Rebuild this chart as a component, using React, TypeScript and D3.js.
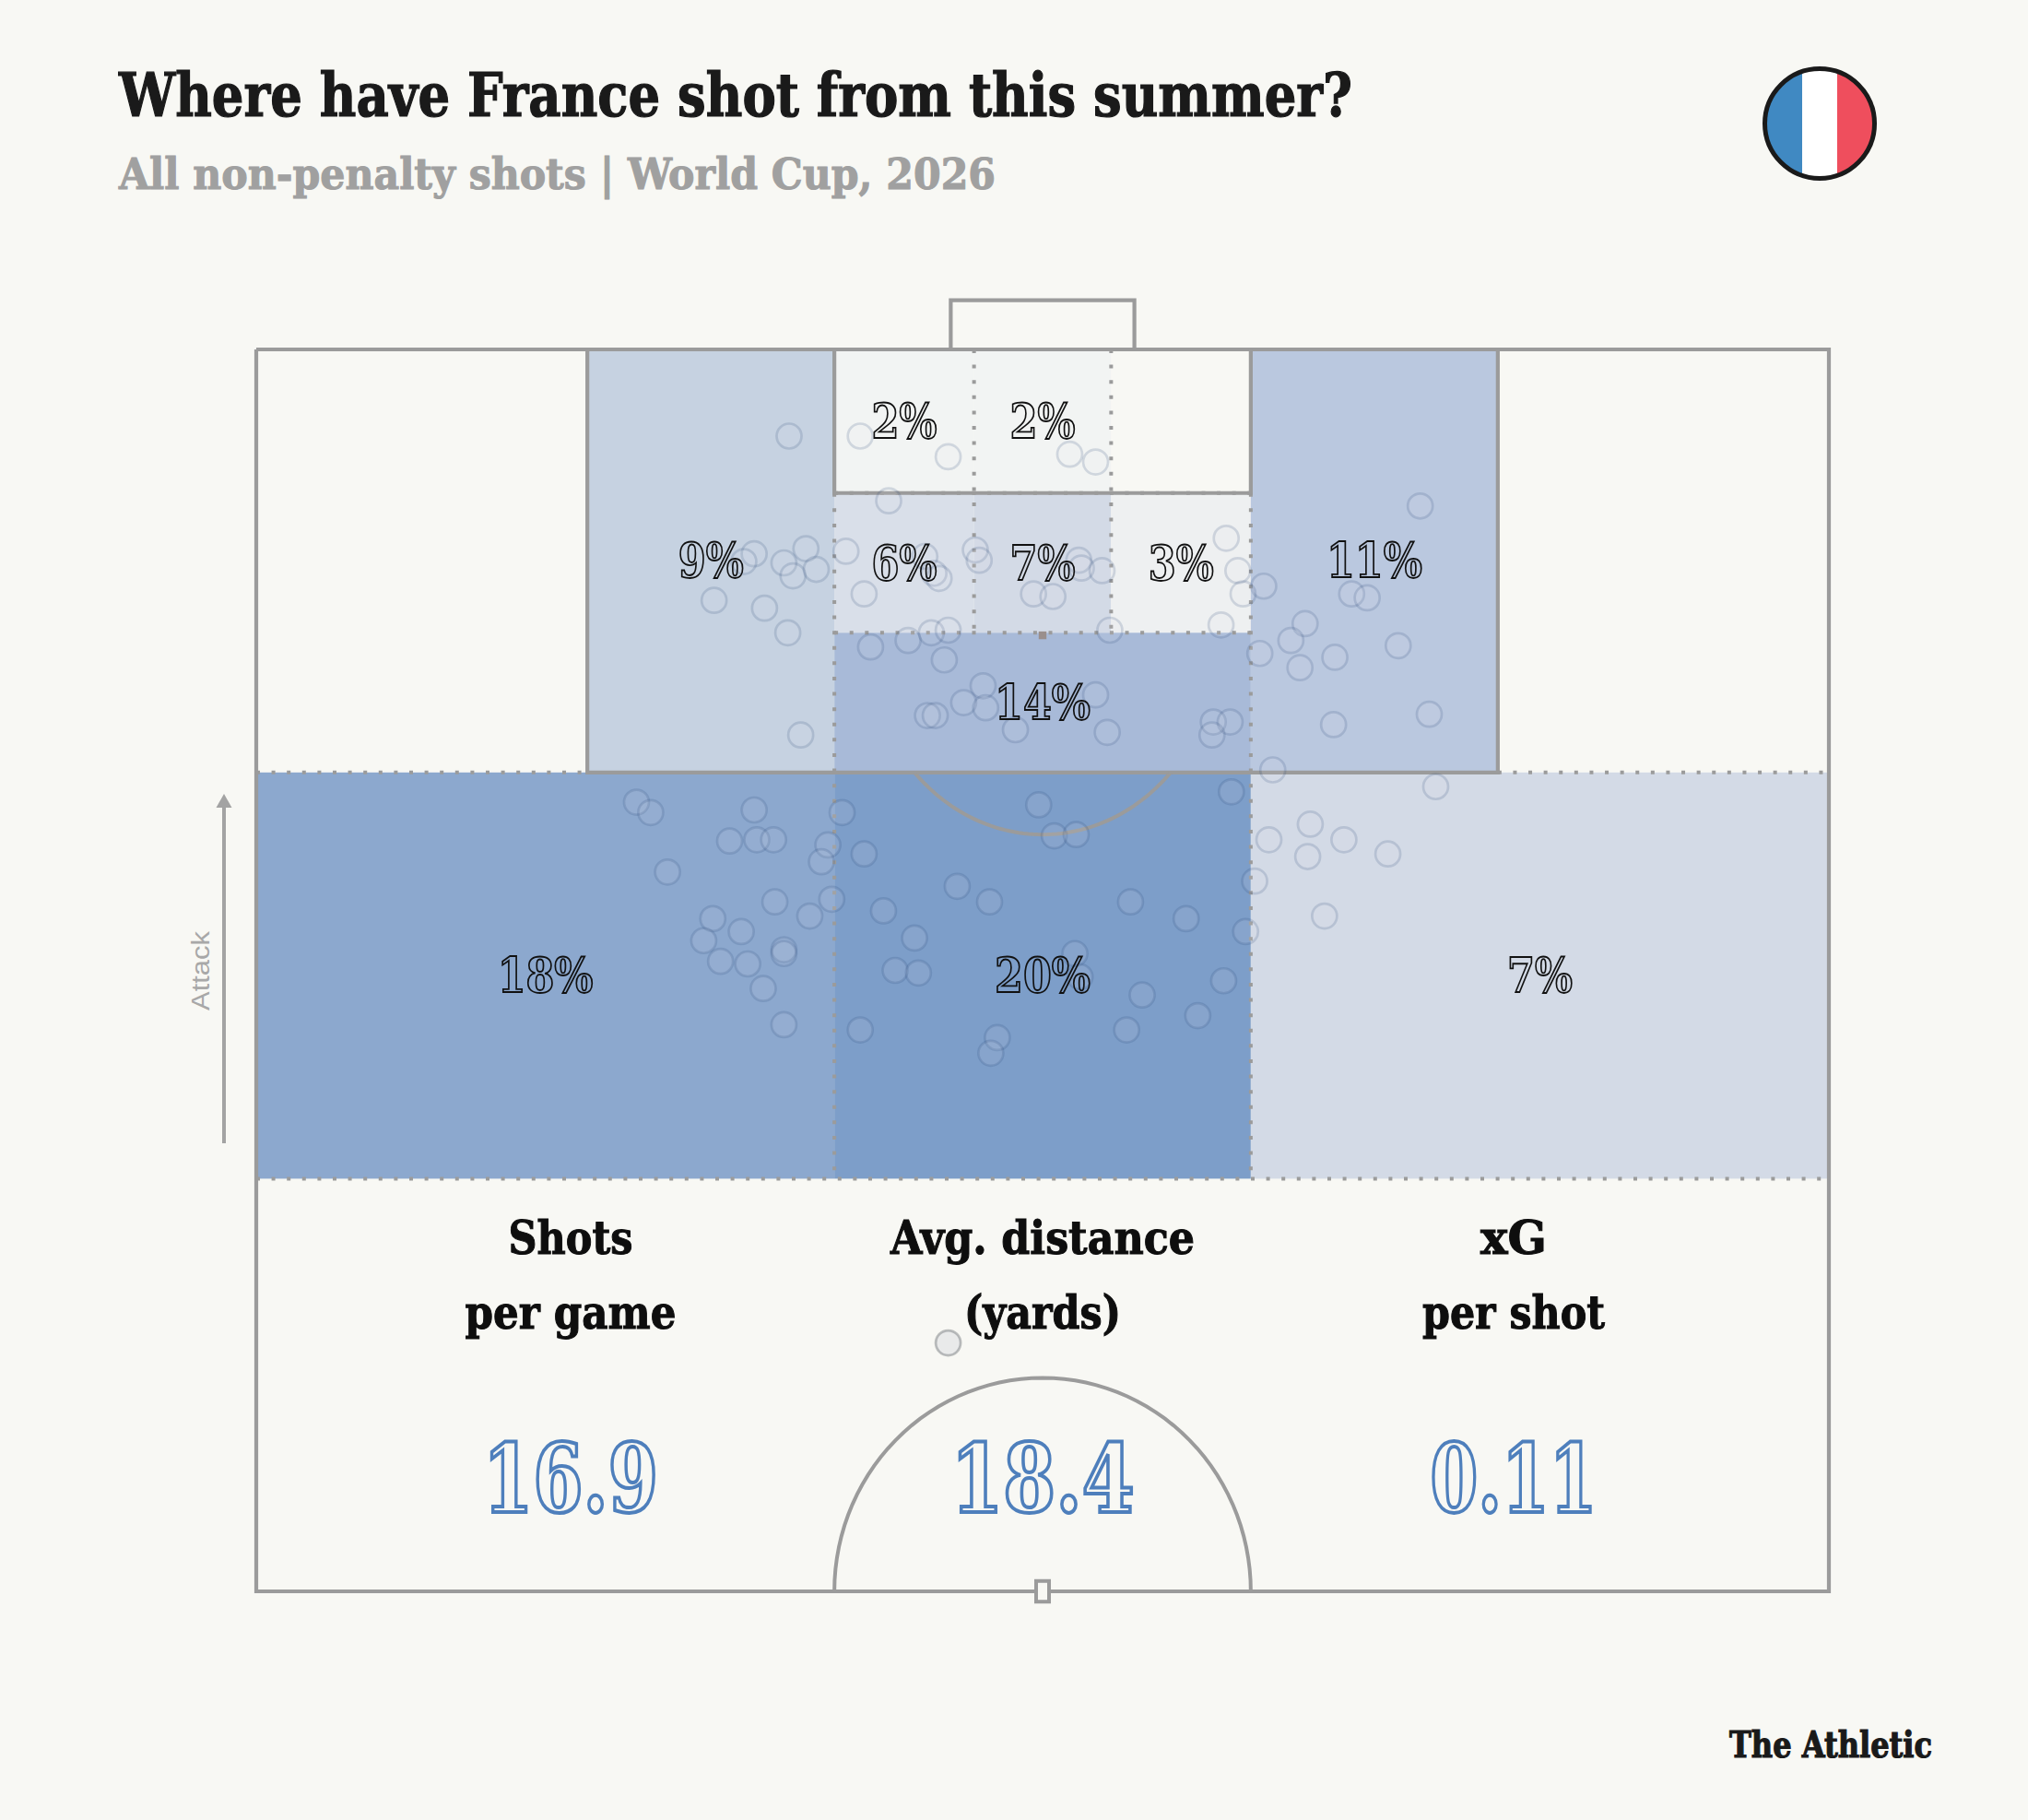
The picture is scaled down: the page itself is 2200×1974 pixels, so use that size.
import * as d3 from "d3";
import * as React from "react";

// pitch units: x = across the pitch from the middle of the goal, y = depth from the goal line
const zoneNames = ["sixLeft", "sixMid", "sixRight", "midLeft", "midMid", "midRight", "boxBottom", "boxLeft", "boxRight", "outLeft", "outMid", "outRight"];
const zoneShare = [2, 2, 0, 6, 7, 3, 14, 9, 11, 18, 20, 7];
const zoneX0 = [-161, -53, 53, -161, -53, 53, -161, -352, 161, -608, -161, 161];
const zoneX1 = [-53, 53, 161, -53, 53, 161, 161, -161, 352, -161, 161, 608];
const zoneY0 = [0, 0, 0, 111, 111, 111, 219, 0, 0, 327, 327, 327];
const zoneY1 = [111, 111, 111, 219, 219, 219, 327, 327, 327, 641, 641, 641];

const shotX = [
  -196, -141, -73, 21, 41, -119, 142, -223, -231, -200, -183, -193, -175, -254, -215, -197,
  -187, -152, -91, -84, -80, -138, -52, -49, 28, 30, -7, 8, 46, 151, 171, 155,
  138, 52, -133, -104, -86, -73, -76, -46, -61, -44, 41, -21, 50, -89, -83, 132,
  145, 131, 168, 292, 239, 251, 203, 192, 199, 226, 275, 299, 225, 178, 304, 146,
  -314, -303, -223, -155, -242, -221, -208, -166, -171, -138, -290, -207, -163, -180, -255, -233,
  -262, -249, -228, -200, -200, -216, -200, -141, -3, 9, 26, -66, -41, -123, 68, 111,
  -99, -114, -96, 164, 157, 25, 29, 77, 140, 120, 65, -35, -40, 207, 175, 233,
  205, 267, 218, -73,
];
const shotY = [
  67, 67, 83, 81, 87, 117, 146, 158, 164, 165, 154, 175, 170, 194, 200, 219,
  298, 156, 160, 173, 177, 189, 155, 163, 163, 169, 189, 191, 171, 171, 183, 189,
  213, 217, 230, 225, 219, 217, 240, 260, 273, 277, 267, 294, 296, 283, 283, 288,
  288, 298, 235, 121, 189, 192, 212, 225, 246, 238, 229, 282, 290, 325, 338, 342,
  350, 358, 356, 358, 380, 379, 379, 383, 396, 390, 404, 427, 425, 438, 440, 450,
  457, 473, 475, 464, 467, 494, 522, 526, 352, 376, 375, 415, 427, 434, 427, 440,
  455, 480, 482, 411, 450, 467, 485, 499, 488, 515, 526, 532, 544, 367, 379, 379,
  392, 390, 438, 768,
];

const statNames = [["Shots", "per game"], ["Avg. distance", "(yards)"], ["xG", "per shot"]];
const statValues = ["16.9", "18.4", "0.11"];
const flagColors = ["#4089C2", "#FFFFFF", "#EF4E5D"];

const bg = "#F8F8F4";
const lineColor = "#9B9B9B";
const slab = "'DejaVu Serif Condensed', 'DejaVu Serif', serif";

export default function App() {
  const width = 2200;
  const height = 1974;
  const pitchLeft = 278;
  const pitchRight = 1984;
  const pitchTop = 379;
  const pitchBottom = 1726;

  const svgRef = React.useRef<SVGSVGElement>(null);

  React.useEffect(() => {
    const svgElement = svgRef.current;
    if (svgElement == null) return;
    const svg = d3.select(svgElement);
    svg.selectAll("*").remove();

    const x = d3.scaleLinear([-608, 608], [pitchLeft, pitchRight]);
    const y = d3.scaleLinear([0, 960], [pitchTop, pitchBottom]);
    const color = d3.scaleLinear<string>(
      [0, 2, 3, 6, 7, 9, 11, 14, 18, 20],
      [bg, "#F2F4F3", "#EEF0F1", "#D9DFE9", "#D3DAE6", "#C6D2E1", "#BAC8DF", "#A8BAD8", "#8CA8CE", "#7D9EC9"]
    );

    svg.append("rect").attr("width", width).attr("height", height).attr("fill", bg);

    const text = (
      str: string,
      px: number,
      py: number,
      size: number,
      len: number,
      fill: string,
      family = slab,
      weight = "bold",
      heavy = 0
    ) =>
      svg
        .append("text")
        .attr("x", px)
        .attr("y", py)
        .attr("font-family", family)
        .attr("font-weight", weight)
        .attr("font-size", size)
        .attr("fill", fill)
        .attr("stroke", heavy > 0 ? fill : "none")
        .attr("stroke-width", heavy)
        .attr("textLength", len)
        .attr("lengthAdjust", "spacingAndGlyphs")
        .text(str);

    // heading
    text("Where have France shot from this summer?", 129, 126, 65, 1338, "#1A1A1A", slab, "bold", 1.2);
    text("All non-penalty shots | World Cup, 2026", 129, 205, 47, 951, "#A0A0A0", slab, "bold", 1);

    // flag
    const flagR = 60;
    const flagX = 1974;
    const flagY = 134;
    const flagBand = d3.scaleBand<number>([0, 1, 2], [flagX - 57, flagX + 57]);
    const clip = svg.append("clipPath").attr("id", "flag-clip");
    clip.append("circle").attr("cx", flagX).attr("cy", flagY).attr("r", flagR);
    svg
      .append("g")
      .attr("clip-path", "url(#flag-clip)")
      .selectAll("rect")
      .data(flagColors)
      .join("rect")
      .attr("x", (_, i) => (i === 0 ? flagX - flagR : flagBand(i) ?? 0))
      .attr("y", flagY - flagR)
      .attr("width", flagBand.bandwidth() + 3)
      .attr("height", flagR * 2)
      .attr("fill", (d) => d);
    svg
      .append("circle")
      .attr("cx", flagX)
      .attr("cy", flagY)
      .attr("r", flagR - 0.5)
      .attr("fill", "none")
      .attr("stroke", "#1A1A1A")
      .attr("stroke-width", 5);

    // zones
    svg
      .append("g")
      .selectAll("rect")
      .data(zoneNames)
      .join("rect")
      .attr("x", (_, i) => x(zoneX0[i]))
      .attr("y", (_, i) => y(zoneY0[i]))
      .attr("width", (_, i) => x(zoneX1[i]) - x(zoneX0[i]))
      .attr("height", (_, i) => y(zoneY1[i]) - y(zoneY0[i]))
      .attr("fill", (_, i) => color(zoneShare[i]));

    // pitch markings
    const lines = svg.append("g").attr("fill", "none").attr("stroke", lineColor);
    const dotted: number[][] = [
      [-53, 0, -53, 219],
      [53, 0, 53, 219],
      [-161, 111, 161, 111],
      [-161, 219, 161, 219],
      [-161, 111, -161, 641],
      [161, 111, 161, 641],
      [-608, 327, -352, 327],
      [352, 327, 608, 327],
      [-608, 641, 608, 641],
    ];
    lines
      .selectAll("line")
      .data(dotted)
      .join("line")
      .attr("x1", (d) => x(d[0]))
      .attr("y1", (d) => y(d[1]))
      .attr("x2", (d) => x(d[2]))
      .attr("y2", (d) => y(d[3]))
      .attr("stroke-width", 4)
      .attr("stroke-dasharray", "4 12.6");

    const solid = d3.line<number[]>()
      .x((d) => x(d[0]))
      .y((d) => y(d[1]));
    const solidPaths: number[][][] = [
      [[-608, 0], [608, 0], [608, 960], [-608, 960], [-608, 0]],
      [[-71, 0], [-71, -38], [71, -38], [71, 0]],
      [[-352, 0], [-352, 327], [352, 327], [352, 0]],
      [[-161, 0], [-161, 111], [161, 111], [161, 0]],
    ];
    lines
      .selectAll("path.solid")
      .data(solidPaths)
      .join("path")
      .attr("class", "solid")
      .attr("d", (d) => solid(d))
      .attr("stroke-width", 4.2);

    // penalty arc and centre circle
    const arcPts = (cx: number, cy: number, rx: number, ry: number, a0: number, a1: number) =>
      d3.range(0, 61).map((i) => {
        const a = a0 + ((a1 - a0) * i) / 60;
        return [cx + rx * Math.cos(a), cy + ry * Math.sin(a)];
      });
    const dAngle = Math.asin(106 / 154);
    lines
      .append("path")
      .attr("d", solid(arcPts(0, 221, 136.5, 154, dAngle, Math.PI - dAngle)))
      .attr("stroke-width", 4);
    lines
      .append("path")
      .attr("d", solid(arcPts(0, 960, 161, 165, Math.PI, 2 * Math.PI)))
      .attr("stroke-width", 4);
    lines
      .append("rect")
      .attr("x", x(-5))
      .attr("y", y(952))
      .attr("width", x(5) - x(-5))
      .attr("height", y(968) - y(952))
      .attr("fill", bg)
      .attr("stroke-width", 4);
    svg
      .append("rect")
      .attr("x", x(-3))
      .attr("y", y(218))
      .attr("width", x(3) - x(-3))
      .attr("height", y(224) - y(218))
      .attr("fill", "#9A8F8C");

    // attack arrow
    svg
      .append("line")
      .attr("x1", 243)
      .attr("x2", 243)
      .attr("y1", 1240)
      .attr("y2", 870)
      .attr("stroke", "#A3A3A3")
      .attr("stroke-width", 4);
    svg
      .append("path")
      .attr("d", "M243 861L251.5 876H234.5Z")
      .attr("fill", "#A3A3A3");
    text("Attack", 0, 0, 27, 86, "#A8A8A8", "'Liberation Sans', sans-serif", "normal").attr(
      "transform",
      "translate(227,1096) rotate(-90)"
    );

    // shots: the one outside the zones sits on bare background and reads stronger
    const outside = (i: number) => shotY[i] > 641;
    svg
      .append("g")
      .selectAll("circle")
      .data(shotX)
      .join("circle")
      .attr("cx", (d) => x(d))
      .attr("cy", (_, i) => y(shotY[i]))
      .attr("r", 13.5)
      .attr("fill", (_, i) => (outside(i) ? "#D6DADD" : "#DDE4E8"))
      .attr("fill-opacity", (_, i) => (outside(i) ? 0.45 : 0.1))
      .attr("stroke", (_, i) => (outside(i) ? "#5F6468" : "#20406F"))
      .attr("stroke-opacity", (_, i) => (outside(i) ? 0.4 : 0.16))
      .attr("stroke-width", 2.7);

    // share labels: hollow digits
    const shown = zoneNames.filter((_, i) => zoneShare[i] > 0);
    svg
      .append("g")
      .selectAll("text")
      .data(shown)
      .join("text")
      .attr("x", (d) => {
        const i = zoneNames.indexOf(d);
        return x((zoneX0[i] + zoneX1[i]) / 2);
      })
      .attr("y", (d) => {
        const i = zoneNames.indexOf(d);
        return y((zoneY0[i] + zoneY1[i]) / 2) + 18;
      })
      .attr("text-anchor", "middle")
      .attr("font-family", slab)
      .attr("font-weight", "bold")
      .attr("font-size", 52)
      .attr("textLength", (d) => (String(zoneShare[zoneNames.indexOf(d)]).length * 23.5 + 27) * 1.403)
      .attr("lengthAdjust", "spacingAndGlyphs")
      .attr("fill", "none")
      .attr("stroke", "#111")
      .attr("stroke-width", 1.8)
      .text((d) => `${zoneShare[zoneNames.indexOf(d)]}%`);

    // stats
    const statX = [619, 1131, 1642];
    const statWidths = [[135, 229], [330, 170], [72, 198]];
    const valueWidths = [190, 199, 181];
    statNames.forEach((rows, i) => {
      rows.forEach((row, j) => {
        text(row, statX[i] - statWidths[i][j] / 2, 1360 + j * 81, 51, statWidths[i][j], "#0E0E0E", slab, "bold", 1);
      });
      svg
        .append("text")
        .attr("x", statX[i] - valueWidths[i] / 2)
        .attr("y", 1640)
        .attr("font-family", slab)
        .attr("font-weight", "bold")
        .attr("font-size", 102)
        .attr("textLength", valueWidths[i])
        .attr("lengthAdjust", "spacingAndGlyphs")
        .attr("fill", "none")
        .attr("stroke", "#4E7FBC")
        .attr("stroke-width", 4)
        .text(statValues[i]);
    });

    text("The Athletic", 1876, 1906, 40, 220, "#1A1A1A", slab, "bold", 1.2);
  }, []);

  return (
    <svg
      ref={svgRef}
      width={width}
      height={height}
      viewBox={`0 0 ${width} ${height}`}
      style={{ position: "absolute", left: 0, top: 0, display: "block" }}
    ></svg>
  );
}
